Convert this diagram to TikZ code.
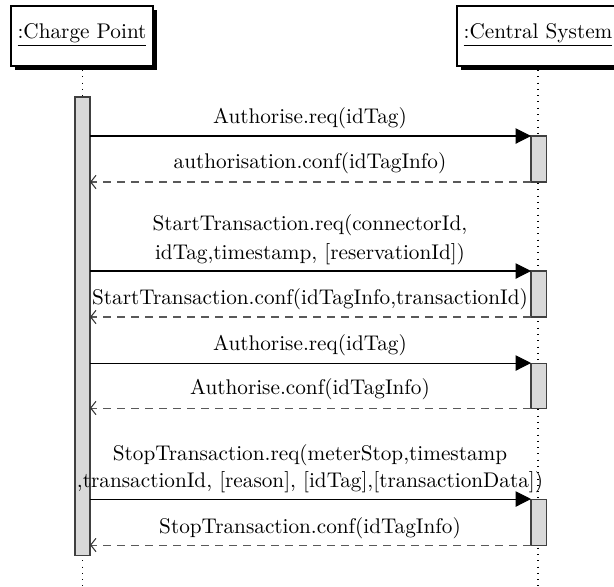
\documentclass[tikz,border=0pt]{standalone}
\usetikzlibrary{arrows.meta}
\definecolor{barfill}{HTML}{D9D9D9}
\begin{document}
\begin{tikzpicture}[x=0.4853pt,y=-0.4853pt,
  thread/.style={draw=black, fill=white, line width=0.5pt},
  tshadow/.style={fill=black},
  lifeline/.style={line width=0.5pt, dash pattern=on 0.45pt off 2.6pt},
  actbar/.style={draw=black!75, fill=barfill, line width=0.5pt},
  reqarrow/.style={line width=0.5pt, -{Triangle[length=7.5pt,width=7.5pt]}},
  reparrow/.style={line width=0.5pt, draw=black!65, dash pattern=on 3.8pt off 3pt, -{Straight Barb[length=2.6pt,width=6.5pt,black!80]}},
  msg/.style={inner sep=0pt, font=\fontsize{10.3}{12}\selectfont}
]
\useasboundingbox (0,0) rectangle (614,586);
\clip (0,0) rectangle (614,586);
% lifelines
\coordinate (cptop) at (82.5,70);
\coordinate (cpbot) at (82.5,586);
\coordinate (cstop) at (538,70);
\coordinate (csbot) at (538,586);
\draw[lifeline] (cptop) -- (cpbot);
\draw[lifeline] (cstop) -- (csbot);
% thread boxes
\fill[tshadow] (15,10) rectangle (157,70);
\draw[thread] (11,6) rectangle (153,66);
\node[msg] (cp) at (82,35) {\underline{:Charge Point}};
\fill[tshadow] (461,10) rectangle (630,70);
\draw[thread] (457,6) rectangle (626,66);
\node[msg] (cs) at (538,35) {\underline{:Central System}};
% activation bars
\draw[actbar] (75,97) rectangle (90,555);
\draw[actbar] (531,136) rectangle (546,182);
\draw[actbar] (531,271) rectangle (546,317);
\draw[actbar] (531,363) rectangle (546,408);
\draw[actbar] (531,499) rectangle (546,545);
% arrow endpoints
\foreach \n/\y in {a/136,b/182,c/271,d/317,e/363,f/408,g/499,h/545}{
  \coordinate (L\n) at (90,\y);
  \coordinate (R\n) at (531,\y);
}
\draw[reqarrow] (La) -- (Ra);
\draw[reparrow] (Rb) -- (Lb);
\draw[reqarrow] (Lc) -- (Rc);
\draw[reparrow] (Rd) -- (Ld);
\draw[reqarrow] (Le) -- (Re);
\draw[reparrow] (Rf) -- (Lf);
\draw[reqarrow] (Lg) -- (Rg);
\draw[reparrow] (Rh) -- (Lh);
% labels
\node[msg] (t1) at (310,118) {Authorise.req(idTag)};
\node[msg] (t2) at (310,163) {authorisation.conf(idTagInfo)};
\node[msg] (t3) at (310,225) {StartTransaction.req(connectorId,};
\node[msg] (t4) at (310,254) {idTag,timestamp, [reservationId])};
\node[msg] (t5) at (310,299) {StartTransaction.conf(idTagInfo,transactionId)};
\node[msg] (t6) at (310,345) {Authorise.req(idTag)};
\node[msg] (t7) at (310,389) {Authorise.conf(idTagInfo)};
\node[msg] (t8) at (310,455) {StopTransaction.req(meterStop,timestamp};
\node[msg] (t9) at (310,482) {,transactionId, [reason], [idTag],[transactionData])};
\node[msg] (t10) at (310,528) {StopTransaction.conf(idTagInfo)};
\end{tikzpicture}
\end{document}
